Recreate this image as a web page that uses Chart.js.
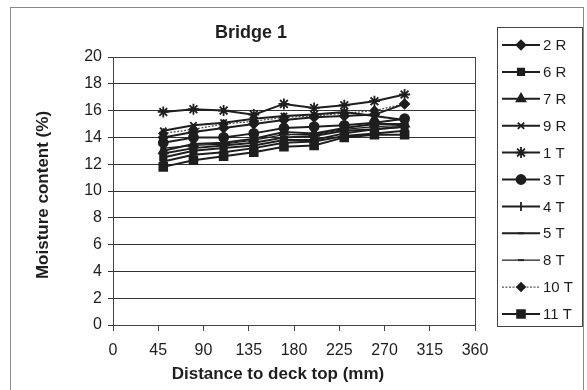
<!DOCTYPE html>
<html><head><meta charset="utf-8">
<script src="https://cdn.jsdelivr.net/npm/chart.js@4/dist/chart.umd.min.js"></script>
<style>html,body{margin:0;padding:0;background:#fff}#wrap{width:587px;height:390px}</style>
</head><body><div id="wrap"><canvas id="c" width="587" height="390"></canvas></div>
<script>
const distances = [50, 80, 110, 140, 170, 200, 230, 260, 290];
const seriesNames = ["2 R","6 R","7 R","9 R","1 T","3 T","4 T","5 T","8 T","10 T","11 T"];
const s2R  = [14.0, 14.4, 14.7, 15.0, 15.3, 15.5, 15.6, 15.7, 16.5];
const s6R  = [12.5, 13.0, 13.2, 13.4, 13.8, 13.8, 14.3, 14.6, 14.8];
const s7R  = [13.0, 13.5, 13.6, 13.9, 14.4, 14.3, 14.7, 15.0, 15.0];
const s9R  = [14.5, 14.9, 15.1, 15.4, 15.6, 15.7, 15.9, 15.6, 15.3];
const s1T  = [15.9, 16.1, 16.0, 15.7, 16.5, 16.2, 16.4, 16.7, 17.2];
const s3T  = [13.6, 14.0, 14.0, 14.3, 14.7, 14.8, 14.9, 15.1, 15.4];
const s4T  = [12.8, 13.2, 13.4, 13.6, 14.0, 14.1, 14.5, 14.6, 14.8];
const s5T  = [12.2, 12.7, 12.9, 13.2, 13.6, 13.7, 14.1, 14.3, 14.5];
const s8T  = [13.2, 13.4, 13.5, 13.8, 14.2, 14.2, 14.6, 14.8, 14.9];
const s10T = [14.3, 14.6, 15.0, 15.2, 15.5, 15.6, 15.8, 16.0, 16.5];
const s11T = [11.8, 12.3, 12.6, 12.9, 13.3, 13.4, 14.0, 14.2, 14.2];
const xTicks = [0,45,90,135,180,225,270,315,360];
const yTicks = [0,2,4,6,8,10,12,14,16,18,20];

const values = [s2R,s6R,s7R,s9R,s1T,s3T,s4T,s5T,s8T,s10T,s11T];
const styles = [
  {ps:'rectRot', r:4.5, dash:[]},
  {ps:'rect', r:4.5, dash:[]},
  {ps:'triangle', r:5, dash:[]},
  {ps:'crossRot', r:4.5, dash:[]},
  {ps:'star', r:5.5, dash:[]},
  {ps:'circle', r:4.5, dash:[]},
  {ps:'line', r:4.5, rot:90, dash:[]},
  {ps:'line', r:3, dash:[]},
  {ps:'line', r:3, dash:[]},
  {ps:'rectRot', r:4, dash:[2,1.5]},
  {ps:'rect', r:5.5, dash:[]}
];
const ink = '#1e1e1e';
const FONT = '"Liberation Sans", Arial, sans-serif';
const datasets = seriesNames.map((n,i)=>({
  label:n,
  data: distances.map((d,j)=>({x:d,y:values[i][j]})),
  borderColor: i===9 ? '#555' : ink,
  backgroundColor: ink,
  borderWidth: (i===8||i===9)?1.3:2,
  borderDash: styles[i].dash,
  pointStyle: styles[i].ps,
  pointRadius: styles[i].r,
  pointRotation: styles[i].rot||0,
  pointBorderColor: ink,
  pointBackgroundColor: ink,
  pointBorderWidth: 1.8,
  tension:0
}));

const decor = {
  id:'decor',
  beforeDraw(chart){
    const ctx=chart.ctx;
    ctx.save();
    ctx.fillStyle='#fff';ctx.fillRect(0,0,chart.width,chart.height);
    ctx.restore();
  },
  afterDraw(chart){
    const ctx=chart.ctx, a=chart.chartArea;
    ctx.save();
    ctx.strokeStyle='#8a8a8a';ctx.lineWidth=1;
    ctx.strokeRect(10.5,7.5,573,400);
    ctx.strokeStyle='#444';
    ctx.strokeRect(Math.round(a.left)+0.5,Math.round(a.top)+0.5,Math.round(a.right-a.left),Math.round(a.bottom-a.top));
    ctx.fillStyle=ink;
    ctx.textAlign='center';ctx.textBaseline='middle';
    ctx.font='bold 18px '+FONT;
    ctx.fillText('Bridge 1',251,33);
    ctx.font='bold 17px '+FONT;
    ctx.fillText('Distance to deck top (mm)',278,374);
    ctx.save();
    ctx.translate(43,195);ctx.rotate(-Math.PI/2);
    ctx.fillText('Moisture content (%)',0,0);
    ctx.restore();
    // legend
    const lx=497, ly=27, lw=85, lh=299;
    ctx.strokeStyle='#444';ctx.lineWidth=1;
    ctx.strokeRect(lx+0.5,ly+0.5,lw,lh);
    ctx.font='15px '+FONT;
    ctx.textAlign='left';
    chart.data.datasets.forEach((ds,i)=>{
      const y=45+i*26.9;
      ctx.save();
      ctx.strokeStyle=ds.borderColor;ctx.lineWidth=ds.borderWidth;
      ctx.setLineDash(ds.borderDash||[]);
      ctx.beginPath();ctx.moveTo(502,y);ctx.lineTo(540,y);ctx.stroke();
      ctx.restore();
      ctx.save();
      ctx.fillStyle=ink;ctx.strokeStyle=ink;ctx.lineWidth=1.8;
      Chart.helpers.drawPoint(ctx,{pointStyle:ds.pointStyle,radius:ds.pointRadius,rotation:ds.pointRotation,borderWidth:1.8},521,y);
      ctx.restore();
      ctx.fillStyle=ink;
      ctx.fillText(ds.label,543,y+1);
    });
    ctx.restore();
  }
};

new Chart(document.getElementById('c'),{
  type:'line',
  data:{datasets},
  options:{
    responsive:false,animation:false,
    layout:{padding:{top:57,right:112,left:0,bottom:0}},
    plugins:{legend:{display:false},title:{display:false},tooltip:{enabled:false}},
    scales:{
      x:{type:'linear',min:0,max:360,
        afterBuildTicks(s){s.ticks=xTicks.map(v=>({value:v}));},
        afterFit(s){s.height=65;},
        grid:{drawOnChartArea:false,drawTicks:true,tickLength:6,color:'#444'},
        border:{color:'#444'},
        ticks:{color:ink,font:{size:16,family:FONT},padding:10,maxRotation:0}
      },
      y:{min:0,max:20,
        afterBuildTicks(s){s.ticks=yTicks.map(v=>({value:v}));},
        afterFit(s){s.width=113;},
        grid:{color:'#333',lineWidth:1,tickLength:5},
        border:{color:'#444'},
        ticks:{color:ink,font:{size:16,family:FONT},padding:6}
      }
    }
  },
  plugins:[decor]
});
</script></body></html>
